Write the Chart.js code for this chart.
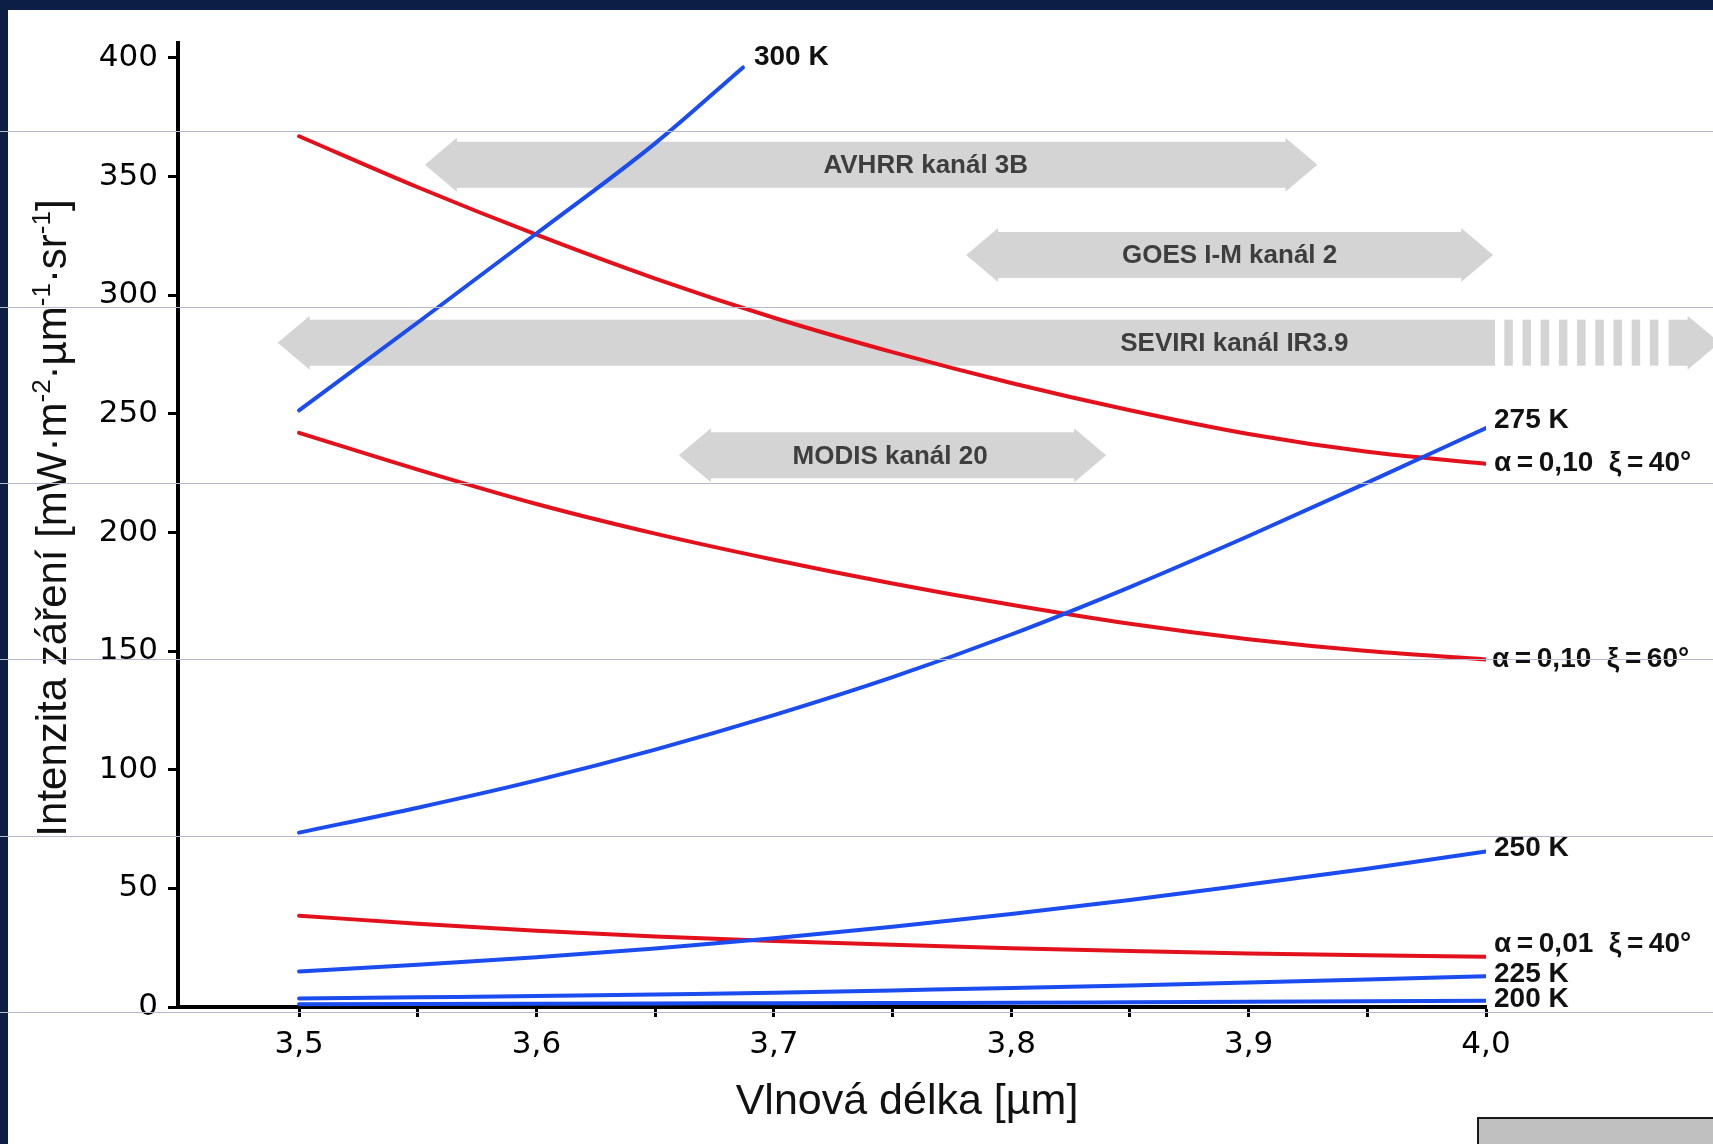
<!DOCTYPE html>
<html>
<head>
<meta charset="utf-8">
<script src="https://cdn.jsdelivr.net/npm/chart.js@4.4.1/dist/chart.umd.min.js"></script>
<style>
  html, body { margin: 0; padding: 0; background: #fff; }
  #wrap { position: relative; width: 1713px; height: 1144px; overflow: hidden; background: #fff; }
  #graf { position: absolute; left: 0; top: 0; }
  .ram { position: absolute; background: #0c1e46; }
  .linka { position: absolute; left: 0; width: 1713px; height: 1px; background: #b7b9cf; }
  #tlacitko { position: absolute; left: 1477px; top: 1117px; width: 260px; height: 60px; background: #c0c0c0; border: 2px solid #1a1a1a; }
</style>
</head>
<body>
<div id="wrap">
  <canvas id="graf" width="1713" height="1144"></canvas>
  <div class="ram" style="left:0;top:0;width:1713px;height:10px"></div>
  <div class="ram" style="left:0;top:0;width:8px;height:1144px"></div>
  <div class="linka" style="top:131px"></div>
  <div class="linka" style="top:307px"></div>
  <div class="linka" style="top:483px"></div>
  <div class="linka" style="top:659px"></div>
  <div class="linka" style="top:836px"></div>
  <div class="linka" style="top:1012px"></div>
  <div id="tlacitko"></div>
</div>
<script>
// vlnove delky [um]
const wavelengths = [3.50, 3.55, 3.60, 3.65, 3.70, 3.75, 3.80, 3.85, 3.90, 3.95, 4.00];
const wavelengths300 = [3.50, 3.55, 3.60, 3.65, 3.687];

// vyzarovani cerneho telesa [mW/(m2 um sr)]
const k300 = [251.5, 288.5, 326, 364, 396];
const k275 = [73.5, 84, 95.5, 108.5, 123, 139, 157, 177, 198.5, 221, 244];
const k250 = [15, 17.8, 21, 24.7, 29, 33.8, 39.2, 45.1, 51.6, 58.3, 65.5];
const k225 = [3.6, 4.1, 4.6, 5.3, 6, 7, 8, 9.1, 10.3, 11.6, 13];
const k200 = [1.2, 1.3, 1.4, 1.5, 1.6, 1.7, 1.8, 2, 2.2, 2.4, 2.6];

// odrazene slunecni zareni
const refl10_40 = [367, 345.5, 325.5, 307, 290.5, 276, 263, 251.5, 241.5, 234, 229];
const refl10_60 = [242, 226.5, 212, 199.5, 188.5, 178.5, 169.5, 161.5, 155, 150, 146.5];
const refl01_40 = [38.5, 35.1, 32.1, 29.7, 27.8, 26.2, 24.8, 23.6, 22.6, 21.8, 21.2];

const seriesNames = ['300 K', '275 K', '250 K', '225 K', '200 K',
  'α\u2009=\u20090,10  ξ\u2009=\u200940°', 'α\u2009=\u20090,10  ξ\u2009=\u200960°', 'α\u2009=\u20090,01  ξ\u2009=\u200940°'];

// spektralni kanaly druzic
const bandNames = ['AVHRR kanál 3B', 'GOES I-M kanál 2', 'SEVIRI kanál IR3.9', 'MODIS kanál 20'];
const bandFrom = [3.553, 3.781, 3.491, 3.660];
const bandTo = [3.929, 4.003, 4.36, 3.840];

const xTicks = [3.5, 3.55, 3.6, 3.65, 3.7, 3.75, 3.8, 3.85, 3.9, 3.95, 4.0];
const xTickLabels = ['3,5', '', '3,6', '', '3,7', '', '3,8', '', '3,9', '', '4,0'];
const yTicks = [0, 50, 100, 150, 200, 250, 300, 350, 400];
const yTickLabels = ['0', '50', '100', '150', '200', '250', '300', '350', '400'];

const blue = '#1a4cf0';
const red = '#e3111c';

const pts = (xs, ys) => xs.map((x, i) => ({x: x, y: ys[i]}));
const line = (label, data, color) => ({
  label: label, data: data, borderColor: color, borderWidth: 4,
  pointRadius: 0, cubicInterpolationMode: 'monotone', borderCapStyle: 'round', fill: false
});

const datasets = [
  line(seriesNames[0], pts(wavelengths300, k300), blue),
  line(seriesNames[1], pts(wavelengths, k275), blue),
  line(seriesNames[2], pts(wavelengths, k250), blue),
  line(seriesNames[3], pts(wavelengths, k225), blue),
  line(seriesNames[4], pts(wavelengths, k200), blue),
  line(seriesNames[5], pts(wavelengths, refl10_40), red),
  line(seriesNames[6], pts(wavelengths, refl10_60), red),
  line(seriesNames[7], pts(wavelengths, refl01_40), red)
];

// sede sipky s nazvy kanalu
const kanalyPlugin = {
  id: 'kanaly',
  beforeDatasetsDraw(chart, args, opts) {
    const {ctx, scales: {x, y}} = chart;
    const bh = 23, hh = 27, hl = 32;
    ctx.save();
    ctx.fillStyle = '#d4d4d4';
    bandNames.forEach((name, i) => {
      const cy = y.getPixelForValue(opts.rows[i]);
      const x0 = x.getPixelForValue(bandFrom[i]);
      // kanal pokracuje daleko za okraj osy
      const open = bandTo[i] > x.max + 0.1;
      const x1 = open ? x.right + 9 : x.getPixelForValue(bandTo[i]);
      ctx.beginPath();
      ctx.moveTo(x0, cy);
      ctx.lineTo(x0 + hl, cy - hh);
      ctx.lineTo(x0 + hl, cy - bh);
      if (open) {
        ctx.lineTo(x1, cy - bh);
        ctx.lineTo(x1, cy + bh);
      } else {
        ctx.lineTo(x1 - hl, cy - bh);
        ctx.lineTo(x1 - hl, cy - hh);
        ctx.lineTo(x1, cy);
        ctx.lineTo(x1 - hl, cy + hh);
        ctx.lineTo(x1 - hl, cy + bh);
      }
      ctx.lineTo(x0 + hl, cy + bh);
      ctx.lineTo(x0 + hl, cy + hh);
      ctx.closePath();
      ctx.fill();
      if (open) {
        let sx = x1 + 9.3;
        for (let k = 0; k < 9; k++) {
          ctx.fillRect(sx, cy - bh, 8.5, 2 * bh);
          sx += 18.2;
        }
        const hx = sx + 0.5;
        ctx.beginPath();
        ctx.moveTo(hx, cy - bh);
        ctx.lineTo(hx + 19, cy - bh);
        ctx.lineTo(hx + 19, cy - hh);
        ctx.lineTo(hx + 19 + hl, cy);
        ctx.lineTo(hx + 19, cy + hh);
        ctx.lineTo(hx + 19, cy + bh);
        ctx.lineTo(hx, cy + bh);
        ctx.closePath();
        ctx.fill();
      }
    });
    ctx.fillStyle = '#3e3e3e';
    ctx.font = 'bold 26px "Liberation Sans", Arial, sans-serif';
    ctx.textAlign = 'center';
    ctx.textBaseline = 'middle';
    bandNames.forEach((name, i) => {
      ctx.fillText(name, x.getPixelForValue(opts.labelAt[i]), y.getPixelForValue(opts.rows[i]) + 1);
    });
    ctx.restore();
  }
};

// popisky krivek na jejich koncich
const popiskyPlugin = {
  id: 'popisky',
  afterDatasetsDraw(chart, args, opts) {
    const {ctx} = chart;
    ctx.save();
    ctx.fillStyle = '#111';
    ctx.font = 'bold 28px "Liberation Sans", Arial, sans-serif';
    ctx.textAlign = 'left';
    ctx.textBaseline = 'middle';
    chart.data.datasets.forEach((ds, i) => {
      const meta = chart.getDatasetMeta(i);
      const last = meta.data[meta.data.length - 1];
      const off = opts.offsets[i];
      ctx.fillText(ds.label, last.x + off[0], last.y + off[1]);
    });
    ctx.restore();
  }
};

// nazvy os (y s hornimi indexy)
const osyPlugin = {
  id: 'osy',
  afterDraw(chart, args, opts) {
    const {ctx, chartArea} = chart;
    ctx.save();
    ctx.fillStyle = '#111';
    ctx.textBaseline = 'alphabetic';
    ctx.font = '43px "Liberation Sans", Arial, sans-serif';
    ctx.textAlign = 'center';
    ctx.fillText(opts.xTitle, chartArea.left + opts.xTitleShift, chartArea.bottom + 107);

    const big = '42px "Liberation Sans", Arial, sans-serif';
    const small = '26px "Liberation Sans", Arial, sans-serif';
    const parts = opts.yTitle;
    let total = 0;
    parts.forEach(p => { ctx.font = p.sup ? small : big; total += ctx.measureText(p.t).width; });
    ctx.translate(66, (chartArea.top + chartArea.bottom) / 2 - 7);
    ctx.rotate(-Math.PI / 2);
    ctx.textAlign = 'left';
    let px = -total / 2;
    parts.forEach(p => {
      ctx.font = p.sup ? small : big;
      ctx.fillText(p.t, px, p.sup ? -16 : 0);
      px += ctx.measureText(p.t).width;
    });
    ctx.restore();
  }
};

const ctx = document.getElementById('graf').getContext('2d');
const chart = new Chart(ctx, {
  type: 'line',
  data: { datasets: datasets },
  plugins: [kanalyPlugin, popiskyPlugin, osyPlugin],
  options: {
    responsive: false,
    animation: false,
    layout: { padding: { top: 43, right: 227, bottom: 0, left: 0 } },
    plugins: {
      legend: { display: false },
      tooltip: { enabled: false },
      kanaly: {
        rows: [355, 317, 280, 232.5],
        labelAt: [3.764, 3.892, 3.894, 3.749]
      },
      popisky: {
        offsets: [[11, -10], [8, -8], [8, -3], [8, -2], [8, -2], [8, 0], [6, 0], [8, -12]]
      },
      osy: {
        xTitle: 'Vlnová délka [µm]',
        xTitleShift: 729,
        yTitle: [
          {t: 'Intenzita záření [mW·m'}, {t: '-2', sup: true},
          {t: '·µm'}, {t: '-1', sup: true},
          {t: '·sr'}, {t: '-1', sup: true}, {t: ']'}
        ]
      }
    },
    scales: {
      x: {
        type: 'linear',
        min: 3.449,
        max: 4.0,
        afterBuildTicks: s => { s.ticks = xTicks.map(v => ({value: v})); },
        afterFit: s => { s.height = 137; },
        border: { display: true, color: '#000', width: 4 },
        grid: { drawOnChartArea: false, drawTicks: true, tickLength: 10, tickWidth: 3, tickColor: '#000', color: 'rgba(0,0,0,0)' },
        ticks: {
          autoSkip: false, maxRotation: 0, padding: 9, color: '#000',
          font: { family: '"DejaVu Sans", sans-serif', size: 31 },
          callback: (v, i) => xTickLabels[i]
        }
      },
      y: {
        min: 0,
        max: 406.3,
        afterBuildTicks: s => { s.ticks = yTicks.map(v => ({value: v})); },
        afterFit: s => { s.width = 178; },
        border: { display: true, color: '#000', width: 4 },
        grid: { drawOnChartArea: false, drawTicks: true, tickLength: 10, tickWidth: 3, tickColor: '#000', color: 'rgba(0,0,0,0)' },
        ticks: {
          padding: 10, color: '#000',
          font: { family: '"DejaVu Sans", sans-serif', size: 31 },
          callback: (v, i) => yTickLabels[i]
        }
      }
    }
  }
});
</script>
</body>
</html>
